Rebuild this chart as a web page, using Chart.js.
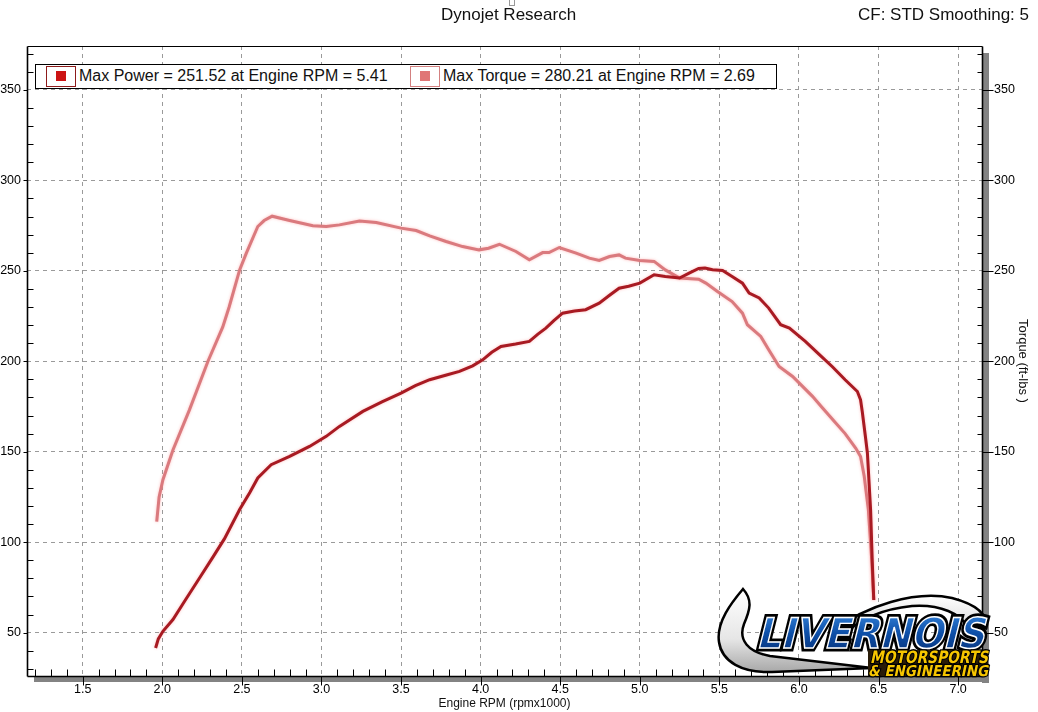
<!DOCTYPE html>
<html>
<head>
<meta charset="utf-8">
<title>Dynojet Research</title>
<script src="https://cdn.jsdelivr.net/npm/chart.js@4.4.1/dist/chart.umd.min.js"></script>
<style>
  html, body { margin: 0; padding: 0; background: #fff; }
  #wrap { position: relative; width: 1038px; height: 712px; overflow: hidden;
          font-family: "Liberation Sans", Arial, sans-serif; color: #111; }
  #chart { position: absolute; left: 0; top: 0; }
  .hdr { position: absolute; top: 5px; font-size: 17px; white-space: nowrap; }
  #stamp { position: absolute; left: 509px; top: -1px; width: 4px; height: 5px; border: 1px solid #999; }
  #legend { position: absolute; left: 35px; top: 64px; width: 740px; height: 23px;
            border: 1px solid #000; background: #fff; }
  .mk { position: absolute; top: 1px; width: 28px; height: 19px; background: #fff; }
  .mk i { position: absolute; left: 9px; top: 4px; width: 10px; height: 10px; }
  .lt { position: absolute; top: 2px; font-size: 16px; white-space: nowrap; }
  #logo { position: absolute; left: 0; top: 0; pointer-events: none; }
</style>
</head>
<body>
<div id="wrap">
  <canvas id="chart" width="1038" height="712"></canvas>
  <div id="stamp"></div>
  <div class="hdr" style="left:441px">Dynojet Research</div>
  <div class="hdr" style="left:858px">CF: STD Smoothing: 5</div>
  <div id="legend"></div>
  <svg id="logo" width="1038" height="712" viewBox="0 0 1038 712">
    <defs>
      <linearGradient id="swoosh" x1="0" y1="0" x2="0" y2="1">
        <stop offset="0" stop-color="#ffffff"/>
        <stop offset="0.6" stop-color="#e6e6e6"/>
        <stop offset="1" stop-color="#a8a8a8"/>
      </linearGradient>
      <linearGradient id="blue" x1="0" y1="0" x2="0" y2="1">
        <stop offset="0" stop-color="#3a8ae0"/>
        <stop offset="0.5" stop-color="#0d4fa8"/>
        <stop offset="1" stop-color="#062e73"/>
      </linearGradient>
    </defs>
    <path d="M743,589 C732,602 716,622 719,642 C722,662 742,673 772,672 L872,668 L770,656 C748,652 738,640 744,624 C750,610 753,600 743,589 Z"
          fill="url(#swoosh)" stroke="#000" stroke-width="2.5"/>
    <path d="M835,630 C865,606 915,590 952,598 C975,604 988,614 986,628 L968,628 C962,614 940,604 912,606 C882,609 858,620 848,632 Z"
          fill="url(#swoosh)" stroke="#000" stroke-width="2.5"/>
    <g transform="translate(756,648) skewX(-14)">
      <text x="0" y="0" font-family="DejaVu Sans" font-weight="bold" font-size="42"
            textLength="228" lengthAdjust="spacingAndGlyphs" fill="#000" stroke="#000" stroke-width="7">LIVERNOIS</text>
      <text x="0" y="0" font-family="DejaVu Sans" font-weight="bold" font-size="42"
            textLength="228" lengthAdjust="spacingAndGlyphs" fill="url(#blue)" stroke="#fff" stroke-width="1.5">LIVERNOIS</text>
    </g>
    <rect x="868" y="650" width="120" height="26" fill="#2a1c08"/>
    <g transform="translate(870,663) skewX(-12)">
      <text x="0" y="0" font-family="DejaVu Sans" font-weight="bold" font-size="17"
            textLength="118" lengthAdjust="spacingAndGlyphs" fill="#f7c600" stroke="#000" stroke-width="2.5" paint-order="stroke">MOTORSPORTS</text>
    </g>
    <g transform="translate(868,676) skewX(-12)">
      <text x="0" y="0" font-family="DejaVu Sans" font-weight="bold" font-size="15"
            textLength="120" lengthAdjust="spacingAndGlyphs" fill="#f7c600" stroke="#000" stroke-width="2.5" paint-order="stroke">&amp; ENGINEERING</text>
    </g>
  </svg>
</div>

<script>
// Engine speed (rpm x1000) and readings taken off the dyno sheet
const powerRpm = [1.958, 1.975, 2.004, 2.067, 2.14, 2.24, 2.32, 2.39, 2.486, 2.55, 2.60, 2.684, 2.80, 2.925,
  3.03, 3.113, 3.26, 3.38, 3.50, 3.59, 3.68, 3.78, 3.867, 3.95, 4.013, 4.07, 4.128, 4.22, 4.306, 4.36,
  4.41, 4.46, 4.515, 4.59, 4.66, 4.745, 4.81, 4.87, 4.93, 5.0, 5.09, 5.16, 5.25, 5.31, 5.37, 5.41,
  5.457, 5.52, 5.58, 5.645, 5.687, 5.75, 5.81, 5.885, 5.94, 6.04, 6.125, 6.21, 6.29, 6.367, 6.387,
  6.398, 6.418, 6.43, 6.45, 6.46, 6.47];
const powerHp = [41.5, 46.5, 50.7, 57.2, 67.3, 81, 92, 101.8, 118, 127.5, 135.5, 142.8, 147.4, 152.9,
  158.5, 164, 172.3, 177.5, 182.4, 186.5, 189.8, 192.3, 194.4, 197.5, 200.8, 205, 208.2, 209.5, 211, 215,
  218.3, 222.5, 226.6, 227.8, 228.5, 232.1, 236.5, 240.4, 241.5, 243.2, 247.8, 246.9, 246, 248.7, 251.3, 251.52,
  250.6, 250.2, 246.9, 243.2, 237.7, 235, 229.4, 220.2, 218.3, 211, 204, 197, 189.8, 183.3, 178.7,
  172, 158, 149.3, 118, 90.3, 68];

const torqueRpm = [1.965, 1.98, 2.004, 2.067, 2.17, 2.287, 2.38, 2.42, 2.486, 2.528, 2.60, 2.64, 2.69,
  2.80, 2.946, 3.03, 3.113, 3.239, 3.344, 3.50, 3.595, 3.68, 3.783, 3.887, 3.99, 4.05, 4.118, 4.222,
  4.306, 4.39, 4.43, 4.494, 4.60, 4.683, 4.745, 4.81, 4.87, 4.91, 5.0, 5.09, 5.16, 5.25, 5.37, 5.415,
  5.488, 5.58, 5.645, 5.676, 5.76, 5.81, 5.875, 5.96, 6.085, 6.14, 6.22, 6.29, 6.356, 6.387, 6.41,
  6.436, 6.457, 6.47];
const torqueFtLb = [111.3, 125, 134.5, 151, 173, 200, 219, 230, 250.5, 259.8, 274.5, 277.8, 280.21,
  277.8, 274.9, 274.5, 275.4, 277.6, 276.7, 273.6, 272.3, 269.3, 266.2, 263.4, 261.6, 262.5, 264.7, 260.7,
  256.1, 260.1, 260.1, 262.9, 259.8, 257, 255.7, 257.9, 258.8, 257, 255.7, 255.2, 250.5, 246, 245.4, 243.2,
  238.6, 233, 226.6, 220.2, 213.7, 206.4, 197.1, 191.6, 180.6, 175, 167, 160, 152, 147.4, 136.4,
  118, 90.3, 68];

// legend entries
const seriesNames = ["Power", "Torque"];
const peakValues = [251.52, 280.21];
const peakRpm = [5.41, 2.69];

// tick labels
const xTicks = [1.5, 2.0, 2.5, 3.0, 3.5, 4.0, 4.5, 5.0, 5.5, 6.0, 6.5, 7.0];
const yTicks = [50, 100, 150, 200, 250, 300, 350];

const powerColor = "#a81a22";
const torqueColor = "#da7a7e";
const fontFamily = '"Liberation Sans", Arial, sans-serif';

// Build the boxed legend across the top of the plot
const legendBox = document.getElementById("legend");
const legendColors = [
  { edge: "#8e1b1b", fill: "#cc1414" },
  { edge: "#d38080", fill: "#e07676" }
];
const legendLeft = [10, 374]; // marker offsets inside the box
seriesNames.forEach((name, i) => {
  const mk = document.createElement("div");
  mk.className = "mk";
  mk.style.left = legendLeft[i] + "px";
  mk.style.border = "1px solid " + legendColors[i].edge;
  mk.innerHTML = '<i style="background:' + legendColors[i].fill + '"></i>';
  legendBox.appendChild(mk);

  const txt = document.createElement("div");
  txt.className = "lt";
  txt.style.left = (legendLeft[i] + 33) + "px";
  txt.textContent = "Max " + name + " = " + peakValues[i].toFixed(2) + " at Engine RPM = " + peakRpm[i].toFixed(2);
  legendBox.appendChild(txt);
});

// Axis lines, tick marks and the grey drop shadow of the dyno frame
function seg(ctx, x1, y1, x2, y2) {
  ctx.beginPath();
  ctx.moveTo(x1, y1);
  ctx.lineTo(x2, y2);
  ctx.stroke();
}

const axisFrame = {
  id: "axisFrame",
  beforeDraw(chart) {
    const { ctx, chartArea: a } = chart;
    ctx.save();
    ctx.fillStyle = "#838383";
    ctx.fillRect(a.left + 7, a.bottom, a.right - a.left, 6);
    ctx.fillRect(a.right, a.top + 7, 7, a.bottom - a.top);
    ctx.restore();
  },
  afterDraw(chart) {
    const { ctx, chartArea: a, scales } = chart;
    const L = Math.round(a.left) + 0.5, R = Math.round(a.right) + 0.5;
    const T = Math.round(a.top) + 0.5, B = Math.round(a.bottom) + 0.5;
    ctx.save();
    ctx.strokeStyle = "#000";
    ctx.lineWidth = 1;
    seg(ctx, L, T, R, T);
    ctx.lineWidth = 1.6;
    seg(ctx, L, T, L, B);
    seg(ctx, R, T, R, B);
    seg(ctx, L, B, R, B);
    ctx.lineWidth = 1;
    // x: minor every 0.1 inside, major every 0.5 outside
    for (let i = 12; i <= 71; i++) {
      const px = Math.round(scales.x.getPixelForValue(i / 10)) + 0.5;
      if (i % 5 === 0) seg(ctx, px, B, px, B + 9);
      else seg(ctx, px, B - 7, px, B);
    }
    // y: minor every 10 inside, major every 50 outside
    for (let v = 30; v <= 370; v += 10) {
      const py = Math.round(scales.y.getPixelForValue(v)) + 0.5;
      if (v % 50 === 0) {
        seg(ctx, L - 4, py, L, py);
        seg(ctx, R, py, R + 11, py);
      } else {
        seg(ctx, L, py, L + 6, py);
        seg(ctx, R - 5, py, R, py);
      }
    }
    ctx.restore();
  }
};

// soft halo around the traces
const lineGlow = {
  id: "lineGlow",
  beforeDatasetDraw(chart) {
    chart.ctx.save();
    chart.ctx.shadowColor = "rgba(255,110,110,0.45)";
    chart.ctx.shadowBlur = 3;
  },
  afterDatasetDraw(chart) {
    chart.ctx.restore();
  }
};

const tickFont = { family: fontFamily, size: 12.5 };

new Chart(document.getElementById("chart"), {
  type: "line",
  data: {
    datasets: [
      {
        label: "Power",
        data: powerRpm.map((x, i) => ({ x: x, y: powerHp[i] })),
        borderColor: powerColor,
        borderWidth: 3,
        pointRadius: 0,
        tension: 0,
        yAxisID: "y"
      },
      {
        label: "Torque",
        data: torqueRpm.map((x, i) => ({ x: x, y: torqueFtLb[i] })),
        borderColor: torqueColor,
        borderWidth: 3,
        pointRadius: 0,
        tension: 0,
        yAxisID: "y2"
      }
    ]
  },
  options: {
    responsive: false,
    animation: false,
    layout: { padding: { top: 46 } },
    plugins: { legend: { display: false }, tooltip: { enabled: false } },
    scales: {
      x: {
        type: "linear",
        min: 1.15,
        max: 7.15,
        afterBuildTicks: s => { s.ticks = xTicks.map(v => ({ value: v })); },
        afterFit: s => { s.height = 36; },
        ticks: { callback: v => Number(v).toFixed(1), font: tickFont, color: "#000", padding: 6, maxRotation: 0, autoSkip: false },
        grid: { color: "#9a9a9a", lineWidth: 1, drawTicks: false },
        border: { display: false, dash: [4, 4] },
        title: { display: true, text: "Engine RPM (rpmx1000)", font: { family: fontFamily, size: 12 }, color: "#111", padding: { top: 0, bottom: 1 } }
      },
      y: {
        position: "left",
        min: 26,
        max: 374.3,
        afterBuildTicks: s => { s.ticks = yTicks.map(v => ({ value: v })); },
        afterFit: s => { s.width = 27; },
        ticks: { font: tickFont, color: "#000", padding: 6, autoSkip: false },
        grid: { color: "#9a9a9a", lineWidth: 1, drawTicks: false },
        border: { display: false, dash: [4, 4] }
      },
      y2: {
        position: "right",
        min: 26,
        max: 374.3,
        afterBuildTicks: s => { s.ticks = yTicks.map(v => ({ value: v })); },
        afterFit: s => { s.width = 56; },
        ticks: { font: tickFont, color: "#000", padding: 12, autoSkip: false },
        grid: { display: false, drawTicks: false },
        border: { display: false },
        title: { display: true, text: "Torque (ft-lbs )", font: { family: fontFamily, size: 13 }, color: "#111", padding: { top: 8, bottom: 0 } }
      }
    }
  },
  plugins: [axisFrame, lineGlow]
});
</script>
</body>
</html>
